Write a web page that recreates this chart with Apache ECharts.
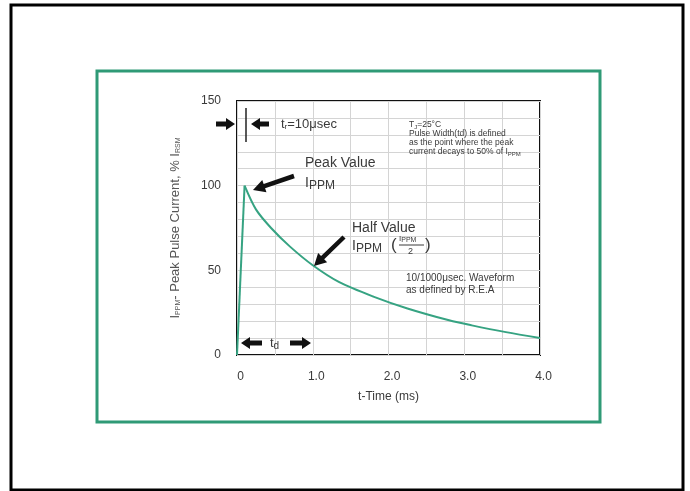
<!DOCTYPE html>
<html>
<head>
<meta charset="utf-8">
<script src="https://cdn.jsdelivr.net/npm/echarts@6/dist/echarts.min.js"></script>
<style>
html,body{margin:0;padding:0;background:#fff;}
#c{width:690px;height:491px;}
</style>
</head>
<body>
<div id="c"></div>
<script>
// ---- data ----
const riseTime = [0, 0.1];
const riseCurrent = [0, 100];
const decayTime = [0.1, 0.25, 0.45, 0.7, 1.0, 1.35, 1.8, 2.25, 2.8, 3.1, 3.55, 4.0];
const decayCurrent = [100, 86, 75, 64, 53, 43, 34.5, 27.5, 20.5, 17.5, 13.5, 10];
const xTicks = [0, 1, 2, 3, 4];
const xTickLabels = ['0', '1.0', '2.0', '3.0', '4.0'];
const yTicks = [0, 50, 100, 150];

const FONT = '"Liberation Sans", Arial, sans-serif';
const TXT = '#3a3a3a';
const GREEN = '#2f9a76';
const CURVE = '#36a382';

function arrow(x1, y1, x2, y2, sw, hw, hl) {
  const dx = x2 - x1, dy = y2 - y1, L = Math.hypot(dx, dy);
  const ux = dx / L, uy = dy / L, nx = -uy, ny = ux;
  const bx = x2 - ux * hl, by = y2 - uy * hl;
  return {
    type: 'polygon',
    shape: { points: [
      [x1 + nx * sw / 2, y1 + ny * sw / 2],
      [bx + nx * sw / 2, by + ny * sw / 2],
      [bx + nx * hw / 2, by + ny * hw / 2],
      [x2, y2],
      [bx - nx * hw / 2, by - ny * hw / 2],
      [bx - nx * sw / 2, by - ny * sw / 2],
      [x1 - nx * sw / 2, y1 - ny * sw / 2]
    ] },
    style: { fill: '#111' },
    z: 20
  };
}
function txt(x, y, text, size, rich, extra) {
  return {
    type: 'text', x: x, y: y, z: 20,
    style: Object.assign({ text: text, fontSize: size, fontFamily: FONT, fill: TXT,
      verticalAlign: 'middle', align: 'left', rich: rich || undefined }, extra || {})
  };
}
const subRich = (big, small) => ({
  b: { fontSize: big, fontFamily: FONT, fill: TXT },
  s: { fontSize: small, fontFamily: FONT, fill: TXT, verticalAlign: 'bottom', padding: [Math.round(big * 0.45), 0, 0, 0] }
});

const chart = echarts.init(document.getElementById('c'), null, { renderer: 'canvas' });
chart.setOption({
  animation: false,
  backgroundColor: '#fff',
  grid: { left: 237, right: 150, top: 101, bottom: 136, show: true, borderColor: '#111', borderWidth: 2, backgroundColor: 'transparent', containLabel: false },
  xAxis: {
    type: 'value', min: xTicks[0], max: xTicks[xTicks.length - 1], interval: 1,
    axisLine: { show: false }, axisTick: { show: false },
    axisLabel: { color: TXT, fontSize: 12, fontFamily: FONT, margin: 16, padding: [0, 0, 0, 7],
      formatter: v => { const i = xTicks.indexOf(v); return i >= 0 ? xTickLabels[i] : ''; } },
    splitLine: { show: true, lineStyle: { color: '#d4d4d4', width: 1 } },
    minorTick: { show: false, splitNumber: 2 },
    minorSplitLine: { show: true, lineStyle: { color: '#d4d4d4', width: 1 } },
    name: 't-Time (ms)', nameLocation: 'middle', nameGap: 36,
    nameTextStyle: { color: TXT, fontSize: 12, fontFamily: FONT }
  },
  yAxis: {
    type: 'value', min: yTicks[0], max: yTicks[yTicks.length - 1], interval: 50,
    axisLine: { show: false }, axisTick: { show: false },
    axisLabel: { color: TXT, fontSize: 12, fontFamily: FONT, margin: 16, padding: [4, 0, 0, 0] },
    splitLine: { show: true, lineStyle: { color: '#d4d4d4', width: 1 } },
    minorTick: { show: false, splitNumber: 5 },
    minorSplitLine: { show: true, lineStyle: { color: '#d4d4d4', width: 1 } },
    name: '{b|I}{s|PPM}{b|- Peak Pulse Current, % I}{s|RSM}',
    nameLocation: 'middle', nameGap: 55,
    nameTextStyle: { color: '#555', fontSize: 13, fontFamily: FONT,
      rich: { b: { fontSize: 13, fontFamily: FONT, color: '#555' }, s: { fontSize: 7, fontFamily: FONT, color: '#555', verticalAlign: 'bottom' } } }
  },
  series: [
    { type: 'line', data: riseTime.map((t, i) => [t, riseCurrent[i]]), showSymbol: false,
      lineStyle: { color: CURVE, width: 2 }, z: 5 },
    { type: 'line', data: decayTime.map((t, i) => [t, decayCurrent[i]]), showSymbol: false,
      smooth: 0.3, lineStyle: { color: CURVE, width: 2 }, z: 5 }
  ],
  graphic: [
    { type: 'rect', shape: { x: 11, y: 5, width: 672, height: 485 }, style: { fill: 'none', stroke: '#000', lineWidth: 3 }, z: 1 },
    { type: 'rect', shape: { x: 97, y: 71, width: 503, height: 351 }, style: { fill: 'none', stroke: GREEN, lineWidth: 3 }, z: 1 },
    // tr markers
    arrow(216, 124, 235, 124, 5, 12, 9),
    arrow(269, 124, 251, 124, 5, 12, 9),
    { type: 'line', shape: { x1: 246, y1: 108, x2: 246, y2: 142 }, style: { stroke: '#222', lineWidth: 1.5 }, z: 20 },
    txt(281, 124, '{b|t}{s|r}{b|=10μsec}', 13, subRich(13, 8)),
    // peak value
    arrow(294, 176, 253, 190, 4.5, 13, 12),
    txt(305, 163, 'Peak Value', 14),
    txt(305, 183, '{b|I}{s|PPM}', 14, { b: { fontSize: 14, fontFamily: FONT, fill: TXT }, s: { fontSize: 12, fontFamily: FONT, fill: TXT, verticalAlign: 'bottom', padding: [6, 0, 0, 0] } }),
    // half value
    arrow(344, 237, 314, 266, 4.5, 13, 12),
    txt(352, 228, 'Half Value', 14),
    txt(352, 246, '{b|I}{s|PPM}', 14, { b: { fontSize: 14, fontFamily: FONT, fill: TXT }, s: { fontSize: 12, fontFamily: FONT, fill: TXT, verticalAlign: 'bottom', padding: [6, 0, 0, 0] } }),
    txt(391, 245, '(', 17),
    txt(399, 239, '{b|I}{s|PPM}', 8, { b: { fontSize: 8, fontFamily: FONT, fill: TXT }, s: { fontSize: 7, fontFamily: FONT, fill: TXT, verticalAlign: 'bottom', padding: [3, 0, 0, 0] } }),
    { type: 'line', shape: { x1: 399, y1: 245, x2: 424, y2: 245 }, style: { stroke: TXT, lineWidth: 1 }, z: 20 },
    txt(408, 252, '2', 9),
    txt(425, 245, ')', 17),
    // notes
    txt(409, 125, '{b|T}{s|J}{b|=25°C}', 8.5, subRich(8.5, 6)),
    txt(409, 134, 'Pulse Width(td) is defined', 8.5),
    txt(409, 143, 'as the point where the peak', 8.5),
    txt(409, 152, '{b|current decays to 50% of I}{s|PPM}', 8.5, subRich(8.5, 6)),
    txt(406, 278, '10/1000μsec. Waveform', 10),
    txt(406, 290, 'as defined by R.E.A', 10),
    // td
    arrow(262, 343, 241, 343, 5, 12, 9),
    arrow(290, 343, 311, 343, 5, 12, 9),
    txt(270, 343, '{b|t}{s|d}', 13, subRich(13, 10))
  ]
});
</script>
</body>
</html>
